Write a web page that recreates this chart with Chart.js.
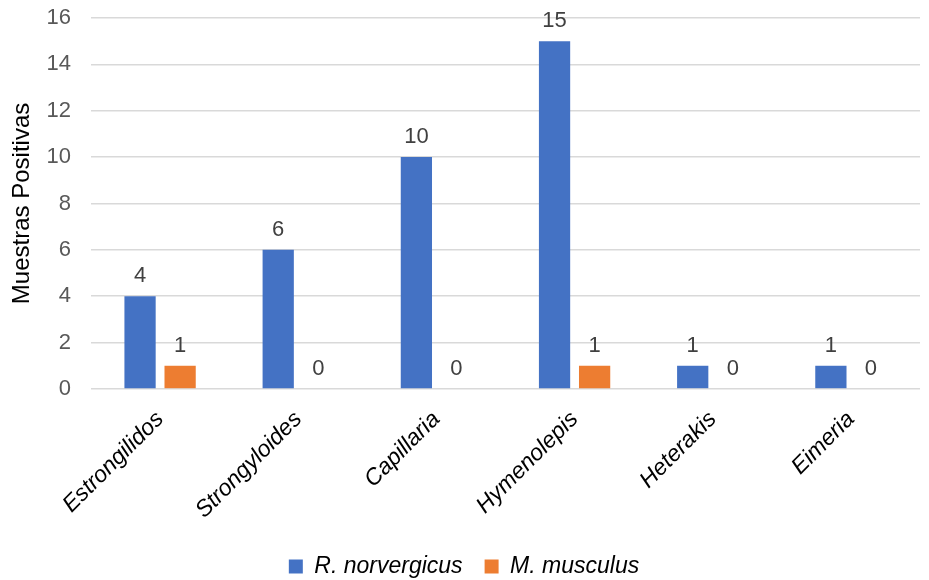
<!DOCTYPE html>
<html>
<head>
<meta charset="utf-8">
<script src="https://cdn.jsdelivr.net/npm/chart.js@4.4.0/dist/chart.umd.min.js"></script>
<style>
  html, body { margin: 0; padding: 0; background: #fff; }
  #wrap { width: 929px; height: 580px; }
</style>
</head>
<body>
<div id="wrap"><canvas id="chart" width="929" height="580"></canvas></div>
<script>
const categories = ['Estrongilidos', 'Strongyloides', 'Capillaria', 'Hymenolepis', 'Heterakis', 'Eimeria'];
const rattusValues = [4, 6, 10, 15, 1, 1];
const musValues = [1, 0, 0, 1, 0, 0];
const seriesNames = ['R. norvergicus', 'M. musculus'];
const yTicks = [0, 2, 4, 6, 8, 10, 12, 14, 16];

const FONT = '"Liberation Sans", Arial, sans-serif';

// draws the value above each bar
const valueLabels = {
    id: 'valueLabels',
    afterDatasetsDraw(chart) {
        const ctx = chart.ctx;
        ctx.save();
        ctx.font = '22px ' + FONT;
        ctx.fillStyle = '#404040';
        ctx.textAlign = 'center';
        ctx.textBaseline = 'bottom';
        chart.data.datasets.forEach((ds, i) => {
            chart.getDatasetMeta(i).data.forEach((bar, j) => {
                ctx.fillText(ds.data[j], bar.x, bar.y - 9);
            });
        });
        ctx.restore();
    }
};

const ctx = document.getElementById('chart').getContext('2d');
new Chart(ctx, {
    type: 'bar',
    data: {
        labels: categories,
        datasets: [{
            label: seriesNames[0],
            data: rattusValues,
            backgroundColor: '#4472C4',
            barPercentage: 0.78,
            categoryPercentage: 0.58
        }, {
            label: seriesNames[1],
            data: musValues,
            backgroundColor: '#ED7D31',
            barPercentage: 0.78,
            categoryPercentage: 0.58
        }]
    },
    options: {
        responsive: false,
        animation: false,
        layout: { padding: { top: 18, right: 9, left: 8, bottom: -8 } },
        plugins: {
            legend: {
                position: 'bottom',
                labels: {
                    boxWidth: 14,
                    boxHeight: 14,
                    padding: 22,
                    color: '#000',
                    font: { size: 23, style: 'italic', family: FONT }
                }
            },
            tooltip: { enabled: false }
        },
        scales: {
            x: {
                grid: { display: false },
                border: { display: false },
                afterFit(scale) {
                    scale.paddingLeft = 0;
                    scale.paddingRight = 0;
                    scale.paddingTop = 0;
                },
                ticks: {
                    color: '#000',
                    minRotation: 45,
                    maxRotation: 45,
                    padding: 9,
                    font: { size: 23, style: 'italic', family: FONT }
                }
            },
            y: {
                min: 0,
                max: 16,
                afterBuildTicks(axis) {
                    axis.ticks = yTicks.map(v => ({ value: v }));
                },
                afterFit(scale) {
                    scale.width = 83;
                    scale.paddingTop = 0;
                    scale.paddingBottom = 0;
                },
                grid: { color: '#d9d9d9', lineWidth: 1.5, drawTicks: false },
                border: { display: false },
                ticks: {
                    color: '#595959',
                    padding: 20,
                    font: { size: 22, family: FONT }
                },
                title: {
                    display: true,
                    text: 'Muestras Positivas',
                    color: '#000',
                    padding: { top: 0, bottom: 8 },
                    font: { size: 24, family: FONT }
                }
            }
        }
    },
    plugins: [valueLabels]
});
</script>
</body>
</html>
